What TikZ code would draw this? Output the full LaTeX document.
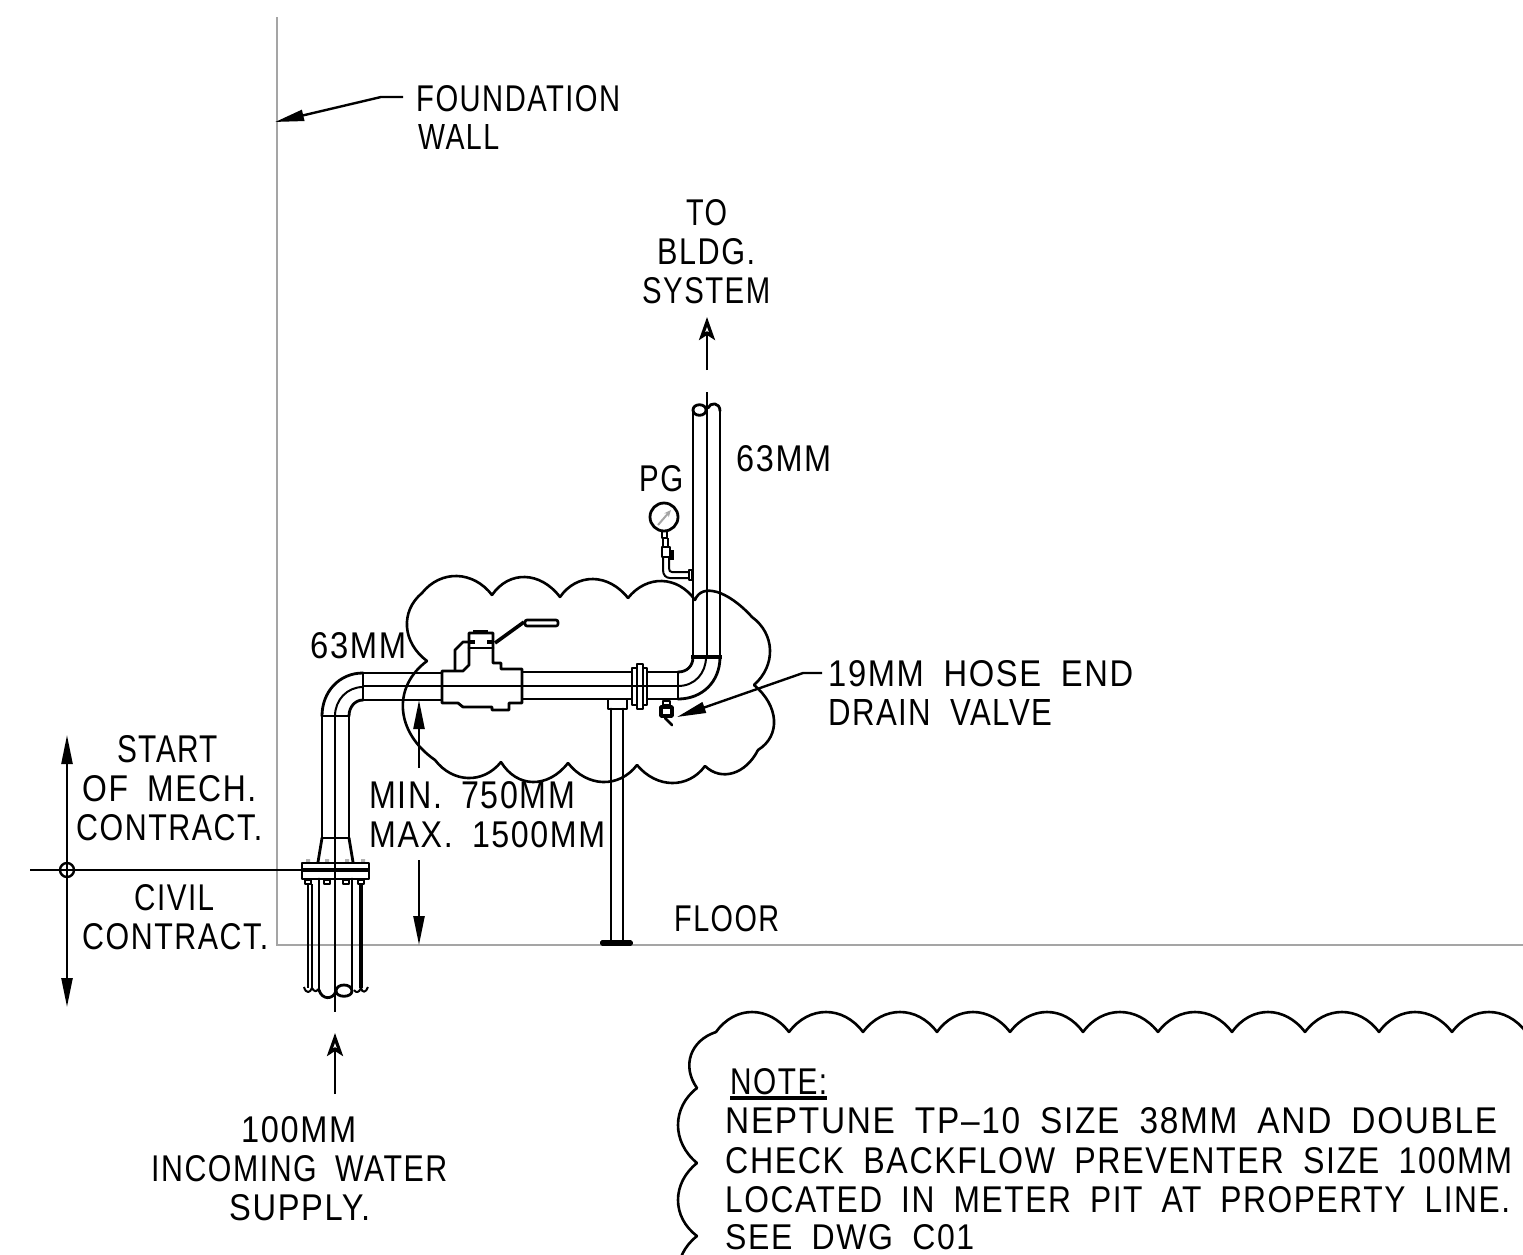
\documentclass[tikz,border=0pt]{standalone}
\usepackage{fontspec}
\usepackage{graphicx}
\usetikzlibrary{arrows.meta}
\setmainfont[LetterSpace=5]{Liberation Sans}
\newcommand{\W}{\hspace{.6em}}
% text line fitted to left, right, top, bottom in pixels
\newcommand{\Tx}[6]{\node[inner sep=0pt,anchor=north west] (#1) at (#2,#4) {\resizebox{\dimexpr #3pt-#2pt\relax}{\dimexpr #5pt-#4pt\relax}{\fontsize{20}{24}\selectfont #6}};}
\tikzset{
  ln/.style={line width=2.8pt,line cap=round,line join=round},
  thk/.style={line width=3.6pt,line join=round},
  thn/.style={line width=2pt,line join=round},
  wall/.style={line width=2.2pt,draw=wallgray},
  arr/.style={line width=2.4pt,-{Triangle[length=29pt,width=11pt]}},
  arro/.style={line width=2.6pt,-{Stealth[length=23pt,width=16pt,inset=5pt,fill=white,line width=3.2pt]}},
  arrb/.style={line width=2.4pt,{Triangle[length=29pt,width=11pt]}-{Triangle[length=29pt,width=11pt]}},
  cloud line/.style={line width=2.6pt,line cap=round},
}
\definecolor{wallgray}{RGB}{165,165,165}
\begin{document}
\begin{tikzpicture}[x=1pt,y=-1pt]
\useasboundingbox (0,0) rectangle (1523,1254);
\fill[white] (0,0) rectangle (1523,1254);
\begin{scope}
\clip (0,0) rectangle (1523,1254);
% wall and floor
\coordinate (wtop) at (277,17);
\coordinate (wcor) at (277,945);
\coordinate (fend) at (1523,945);
\draw[wall] (wtop) -- (wcor) -- (fend);
% clouds
\foreach \ax/\ay/\mx/\my/\bx/\by in {
 492/595/525/577/560/597, 560/597/593/579/628/598, 628/598/662/581/695/600,
 695/600/717/592/752/617, 752/617/770/650/754/685, 754/685/774/720/758/750,
 758/750/733/773/705/766, 705/766/672/783/637/765, 637/765/603/782/568/763,
 568/763/533/782/501/762, 501/762/468/778/435/760, 435/760/403/710/427/661,
 427/661/407/627/422/593, 422/593/457/576/492/595,
 716/1032/752/1012/789/1032, 789/1032/826/1012/863/1032, 863/1032/900/1012/937/1032,
 937/1032/973/1012/1010/1032, 1010/1032/1047/1012/1083/1032, 1083/1032/1120/1012/1158/1032,
 1158/1032/1195/1012/1232/1032, 1232/1032/1268/1012/1305/1032, 1305/1032/1342/1012/1379/1032,
 1379/1032/1415/1012/1452/1032, 1452/1032/1489/1012/1526/1032,
 716/1032/691/1055/697/1088, 697/1088/678/1125/697/1163, 697/1163/678/1200/697/1236,
 697/1236/678/1273/697/1310}
{
 \pgfmathsetmacro\dx{4/3*(\mx-(\ax+\bx)/2)}
 \pgfmathsetmacro\dy{4/3*(\my-(\ay+\by)/2)}
 \pgfmathsetmacro\ex{0.27*(\bx-\ax)}
 \pgfmathsetmacro\ey{0.27*(\by-\ay)}
 \draw[cloud line] (\ax,\ay) .. controls (\ax+\dx+\ex,\ay+\dy+\ey) and (\bx+\dx-\ex,\by+\dy-\ey) .. (\bx,\by);
}
% centre lines
\draw[thn] (707,392) -- (707,657);
\draw[thn] (335,716) -- (335,1012);
% upper vertical pipe
\draw[ln] (693,410) -- (693,657);
\draw[ln] (720,410) -- (720,657);
\draw[ln] (693,410) .. controls (693,403) and (706,403) .. (706,410) .. controls (706,417) and (693,417) .. (693,410);
\draw[ln] (708,408) .. controls (710,402) and (720,402) .. (720,411);
\draw[line width=4.5pt] (691,657) -- (722,657);
% right elbow
\draw[ln] (720,657) .. controls (720,682) and (702,699) .. (678,699);
\draw[thn] (706,657) .. controls (706,673) and (695,686) .. (678,686);
\draw[ln] (693,657) .. controls (693,666) and (687,672) .. (678,672);
\draw[ln] (678,672) -- (678,699);
% horizontal pipe
\draw[ln] (522,672) -- (632,672) (522,699) -- (632,699);
\draw[ln] (647,672) -- (678,672) (647,699) -- (678,699);
\draw[ln] (363,673) -- (442,673) (363,700) -- (442,700);
% flange on horizontal pipe
\draw[ln,fill=white] (632,668) rectangle (647,705);
\draw[ln,fill=white] (637,664) rectangle (643,709);
\draw[thn] (363,686) -- (678,686);
% valve
\draw[ln,fill=white] (442,671) -- (463,671) -- (469,665) -- (469,633) -- (493,633) -- (493,663) -- (501,663) -- (501,669) -- (522,669) -- (522,703) -- (509,703) -- (509,710) -- (492,710) -- (492,707) -- (463,707) -- (458,703) -- (442,703) -- cycle;
\draw[ln] (455,670) -- (455,650) -- (463,642) -- (469,642);
\draw[ln] (469,648) -- (493,648);
\draw[thk] (470,642) -- (475,642) (487,642) -- (493,642);
\draw[thk] (473,632) -- (488,632);
\draw[ln] (442,686) -- (522,686);
\draw[line width=3.6pt] (495,643) -- (524,622);
\draw[line width=2.6pt,fill=white,rounded corners=2pt] (525,620) -- (558,620) -- (558,626) -- (525,626) -- cycle;
% left elbow and riser
\draw[ln] (363,673) .. controls (339,673) and (322,692) .. (322,716);
\draw[thn] (363,687) .. controls (347,687) and (335,700) .. (335,716);
\draw[ln] (363,700) .. controls (355,700) and (349,707) .. (349,716);
\draw[ln] (363,673) -- (363,700);
\draw[ln] (322,716) -- (349,716);
\draw[ln] (322,716) -- (322,838) (349,716) -- (349,838);
\draw[ln] (322,838) -- (349,838);
\draw[ln] (322,838) -- (318,862) (349,838) -- (353,862);
% floor flange
\fill[gray!60] (306,859) rectangle (310,863) (325,859) rectangle (329,863) (345,859) rectangle (349,863) (361,859) rectangle (365,863);
\draw[ln,fill=white] (302,863) rectangle (369,879);
\draw[thk] (302,870) -- (369,870);
\draw[thn] (305,880) rectangle (311,884) (324,880) rectangle (330,884) (343,880) rectangle (349,884) (358,880) rectangle (364,884);
\draw[thn] (335,863) -- (335,885);
% lower pipe and sleeve
\draw[ln] (319,879) -- (319,990) (352,879) -- (352,990);
\draw[thn] (308,884) -- (308,988) (312,884) -- (312,988) (360,884) -- (360,988) (362,884) -- (362,988);
\draw[ln] (319,990) .. controls (322,1000) and (333,1000) .. (336,991);
\draw[ln] (336,991) .. controls (336,983) and (352,983) .. (352,991) .. controls (352,998) and (336,998) .. (336,991);
\draw[thn] (304,987) .. controls (306,994) and (310,993) .. (312,988) .. controls (314,992) and (317,992) .. (318,989);
\draw[thn] (354,990) .. controls (356,993) and (359,993) .. (361,988) .. controls (362,993) and (366,993) .. (368,987);
% pipe support
\draw[ln] (611,709) -- (611,941) (623,709) -- (623,941);
\draw[ln] (608,700) -- (608,709) -- (627,709) -- (627,700);
\draw[thk,fill=black] (602,942) rectangle (631,944);
% pressure gauge
\draw[ln] (664,517) circle (14);
\draw[wallgray,line width=2pt,-{Stealth[length=7pt,width=6pt]}] (658,525) -- (671,510);
\draw[thn] (662,531) rectangle (667,538);
\draw[thn] (663,538) -- (663,547) (668,538) -- (668,547);
\draw[ln] (662,547) rectangle (670,557);
\fill (670,550) rectangle (674,560);
\draw[thn] (663,557) -- (663,570) .. controls (663,575) and (666,578) .. (670,578) -- (689,578);
\draw[thn] (669,557) -- (669,568) .. controls (669,571) and (670,572) .. (672,572) -- (689,572);
\draw[thn] (689,570) rectangle (692,580);
% drain valve
\draw[thn] (663,701) rectangle (670,705);
\draw[thk] (661,707) rectangle (672,716);
\draw[ln] (665,718) -- (672,725);
% texts
\Tx{t1}{416}{620}{85}{111}{FOUNDATION}
\Tx{t2}{418}{499}{124}{149}{WALL}
\Tx{t3}{686}{727}{199}{225}{TO}
\Tx{t4}{657}{755}{238}{264}{BLDG.}
\Tx{t5}{642}{770}{277}{303}{SYSTEM}
\Tx{t6}{736}{831}{445}{471}{63MM}
\Tx{t7}{639}{683}{465}{491}{PG}
\Tx{t8}{310}{406}{632}{658}{63MM}
\Tx{t9}{828}{1133}{660}{686}{19MM\W HOSE\W END}
\Tx{t10}{828}{1052}{699}{725}{DRAIN\W VALVE}
\Tx{t11}{117}{218}{735}{762}{START}
\Tx{t12}{82}{256}{775}{801}{OF\W MECH.}
\Tx{t13}{76}{262}{814}{840}{CONTRACT.}
\Tx{t14}{134}{214}{884}{910}{CIVIL}
\Tx{t15}{82}{268}{923}{949}{CONTRACT.}
\Tx{t16}{369}{575}{781}{808}{MIN.\W 750MM}
\Tx{t17}{369}{605}{821}{847}{MAX.\W 1500MM}
\Tx{t18}{674}{779}{905}{931}{FLOOR}
\Tx{t19}{241}{356}{1116}{1142}{100MM}
\Tx{t20}{151}{447}{1155}{1181}{INCOMING\W WATER}
\Tx{t21}{229}{370}{1194}{1220}{SUPPLY.}
\Tx{t22}{730}{827}{1068}{1094}{NOTE:}
\Tx{t23}{725}{1497}{1107}{1133}{NEPTUNE\W TP–10\W SIZE\W 38MM\W AND\W DOUBLE}
\Tx{t24}{725}{1512}{1147}{1173}{CHECK\W BACKFLOW\W PREVENTER\W SIZE\W 100MM}
\Tx{t25}{725}{1510}{1186}{1212}{LOCATED\W IN\W METER\W PIT\W AT\W PROPERTY\W LINE.}
\Tx{t26}{725}{974}{1224}{1249}{SEE\W DWG\W C01}
\draw[thk] (t22.south west |- 0,1098) -- (t22.south east |- 0,1098);
% leaders and arrows
\coordinate (a1) at (403,97); \coordinate (a2) at (381,97); \coordinate (a3) at (275,122);
\draw[arr] (a1) -- (a2) -- (a3);
\coordinate (b1) at (707,370); \coordinate (b2) at (707,317);
\draw[arro] (b1) -- (b2);
\coordinate (c1) at (822,673); \coordinate (c2) at (803,673); \coordinate (c3) at (677,717);
\draw[arr] (c1) -- (c2) -- (c3);
\coordinate (d1) at (67,735); \coordinate (d2) at (67,1007);
\draw[arrb] (d1) -- (d2);
\coordinate (e0) at (30,870); \coordinate (e1) at (303,870);
\draw[line width=2.8pt] (e0) -- (e1);
\draw[line width=2.4pt] (67,870) circle (7);
\coordinate (f1) at (419,768); \coordinate (f2) at (419,700);
\coordinate (f3) at (419,860); \coordinate (f4) at (419,945);
\draw[arr] (f1) -- (f2);
\draw[arr] (f3) -- (f4);
\coordinate (g1) at (335,1094); \coordinate (g2) at (335,1033);
\draw[arro] (g1) -- (g2);
\end{scope}
\end{tikzpicture}
\end{document}
